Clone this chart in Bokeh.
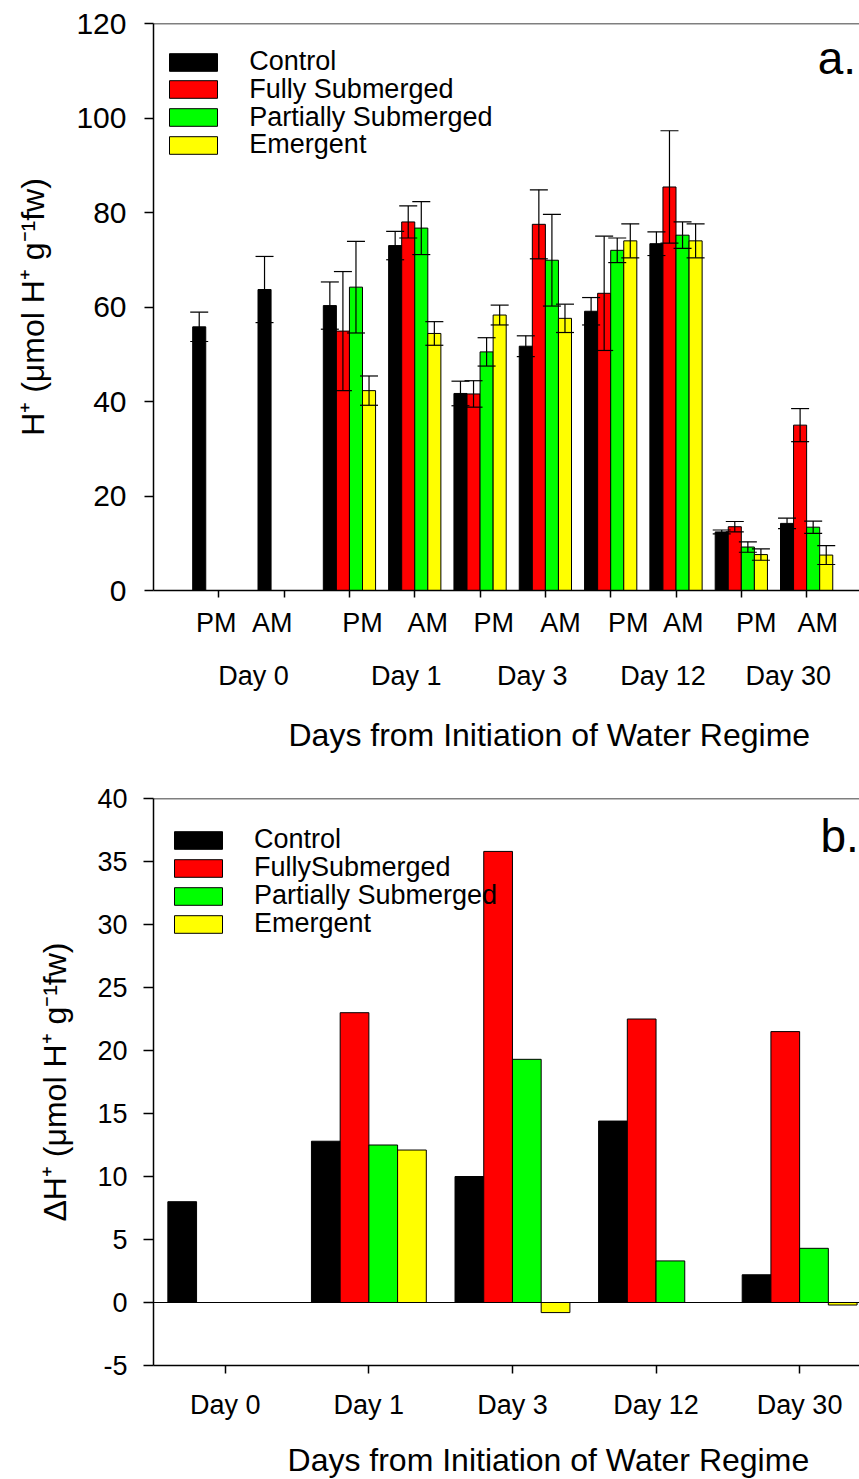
from bokeh.embed import file_html
from bokeh.layouts import column
from bokeh.models import (ColumnDataSource, FixedTicker, Label, Legend, LegendItem,
                          LinearAxis, Range1d, Span, TeeHead, Whisker)
from bokeh.plotting import figure
from bokeh.resources import INLINE

FONT = "Liberation Sans"

# ---------------------------------------------------------------- data
treatments_a = ["Control", "Fully Submerged", "Partially Submerged", "Emergent"]
treatments_b = ["Control", "FullySubmerged", "Partially Submerged", "Emergent"]
colors = ["#000000", "#FF0000", "#00FF00", "#FFFF00"]

days = ["Day 0", "Day 1", "Day 3", "Day 12", "Day 30"]
sessions = ["PM", "AM", "PM", "AM", "PM", "AM", "PM", "AM", "PM", "AM"]

# H+ content (umol H+ g-1 fw), PM then AM sampling for each day
control = [55.8, 63.7, 60.3, 73.0, 41.7, 51.7, 59.1, 73.4, 12.4, 14.2]
control_se = [3.1, 7.0, 5.0, 3.0, 2.6, 2.2, 2.9, 2.5, 0.4, 1.1]
fully = [None, None, 54.9, 78.0, 41.6, 77.5, 62.9, 85.4, 13.5, 35.0]
fully_se = [None, None, 12.6, 3.4, 2.8, 7.3, 12.1, 11.9, 1.1, 3.5]
partial = [None, None, 64.2, 76.7, 50.5, 69.9, 72.0, 75.2, 9.2, 13.4]
partial_se = [None, None, 9.7, 5.6, 3.0, 9.7, 2.6, 2.8, 1.1, 1.3]
emergent = [None, None, 42.3, 54.4, 58.3, 57.6, 74.0, 74.0, 7.6, 7.5]
emergent_se = [None, None, 3.1, 2.5, 2.1, 3.0, 3.6, 3.6, 1.2, 2.0]

# Diurnal change in H+ (AM - PM) for each day
control_delta = [8.0, 12.8, 10.0, 14.4, 2.2]
fully_delta = [None, 23.0, 35.8, 22.5, 21.5]
partial_delta = [None, 12.5, 19.3, 3.3, 4.3]
emergent_delta = [None, 12.1, -0.8, 0.0, -0.2]

x_title = "Days from Initiation of Water Regime"
y_title_a = "H\u207a (\u03bcmol H\u207a g\u207b\u00b9fw)"
y_title_b = "\u0394H\u207a (\u03bcmol H\u207a g\u207b\u00b9fw)"

# ---------------------------------------------------------------- layout
A_LEFT, A_TOP, A_FW, A_FH, A_BOTTOM = 151, 23, 708, 567, 180
B_LEFT, B_TOP, B_FW, B_FH, B_BOTTOM = 153, 28, 706, 567, 114
A_XEND = 10.84          # x units visible in panel a (one unit per sampling)
B_XEND = 4.917          # x units visible in panel b (one unit per day)
OFFSETS = [-0.3, -0.1, 0.1, 0.3]
BAR_W = 0.2

# label anchors along x (data units) for the text rows under panel a
session_label_x = [0.96, 1.82, 3.20, 4.20, 5.21, 6.23, 7.27, 8.11, 9.23, 10.17]
day_label_x = [1.53, 3.87, 5.80, 7.80, 9.72]
title_x_a = 6.06
title_x_b = 2.75


def style_axes(p, tick_font, x_tick_out, y_tick_out):
    p.xgrid.visible = False
    p.ygrid.visible = False
    p.outline_line_color = None
    for ax in (p.xaxis[0], p.yaxis[0]):
        ax.axis_line_width = 1.5
        ax.axis_line_color = "black"
        ax.major_tick_line_width = 1.5
        ax.major_tick_line_color = "black"
        ax.major_tick_in = 0
        ax.minor_tick_line_color = None
        ax.major_label_text_font = FONT
        ax.major_label_text_font_size = tick_font
        ax.major_label_text_color = "black"
        ax.axis_label_text_font = FONT
        ax.axis_label_text_font_style = "normal"
        ax.axis_label_text_color = "black"
    p.xaxis.major_tick_out = x_tick_out
    p.yaxis.major_tick_out = y_tick_out


def text_row(p, ticks, labels, size, standoff):
    """A bare axis below the plot used only to print a row of labels."""
    ax = LinearAxis(ticker=FixedTicker(ticks=ticks),
                    major_label_overrides={t: l for t, l in zip(ticks, labels)},
                    axis_line_color=None, major_tick_line_color=None,
                    minor_tick_line_color=None, major_tick_in=0, major_tick_out=0,
                    major_label_standoff=standoff, major_label_text_font=FONT,
                    major_label_text_font_size=size, major_label_text_color="black")
    p.add_layout(ax, "below")
    return ax


def add_legend(p, renderers, labels, x, y_first, pitch):
    """One legend entry per row, stacked at a fixed pitch."""
    for j, (lab, r) in enumerate(zip(labels, renderers)):
        p.add_layout(Legend(items=[LegendItem(label=lab, renderers=[r])],
                            location=(x, y_first - j * pitch), orientation="vertical",
                            border_line_color=None, background_fill_alpha=0,
                            glyph_width=60, glyph_height=22, label_height=22,
                            label_width=10, label_standoff=26, spacing=0, padding=0,
                            margin=0, label_text_font=FONT, label_text_font_size="27px",
                            label_text_color="black"))


# ---------------------------------------------------------------- panel a
pa = figure(frame_width=A_FW, frame_height=A_FH, min_border_left=A_LEFT, min_border_right=0,
            min_border_top=A_TOP, min_border_bottom=A_BOTTOM,
            x_range=Range1d(0, A_XEND), y_range=Range1d(0, 120),
            output_backend="svg", toolbar_location=None, background_fill_color="white",
            border_fill_color="white")
style_axes(pa, "30px", 7, 9)
pa.yaxis.ticker = FixedTicker(ticks=[0, 20, 40, 60, 80, 100, 120])
pa.yaxis.major_label_standoff = 18
pa.yaxis.axis_label = y_title_a
pa.yaxis.axis_label_text_font_size = "32px"
pa.yaxis.axis_label_standoff = 22
session_pos = [i + 1 for i in range(len(sessions))]
pa.xaxis.ticker = FixedTicker(ticks=session_pos)
pa.xaxis.major_label_overrides = {v: "" for v in session_pos}
pa.xaxis.major_label_text_font_size = "1px"
pa.xaxis.major_label_standoff = 0

series_a = [(control, control_se), (fully, fully_se), (partial, partial_se), (emergent, emergent_se)]
rends_a = []
for k, ((vals, errs), col) in enumerate(zip(series_a, colors)):
    xs, tops, up, lo = [], [], [], []
    for i, (v, e) in enumerate(zip(vals, errs)):
        if v is None:
            continue
        xs.append(session_pos[i] + OFFSETS[k])
        tops.append(v)
        up.append(v + e)
        lo.append(v - e)
    src = ColumnDataSource(dict(x=xs, top=tops, upper=up, lower=lo))
    r = pa.vbar(x="x", top="top", bottom=0, width=BAR_W, source=src,
                fill_color=col, line_color="black", line_width=1)
    rends_a.append(r)
    pa.add_layout(Whisker(source=src, base="x", upper="upper", lower="lower",
                          dimension="height", line_color="black", line_width=1.2,
                          level="overlay",
                          upper_head=TeeHead(size=18, line_width=1.2, line_color="black"),
                          lower_head=TeeHead(size=18, line_width=1.2, line_color="black")))

pa.add_layout(Span(location=120, dimension="width", line_color="black", line_width=1.5))
add_legend(pa, rends_a, treatments_a, 19, 513, 27.8)
text_row(pa, session_label_x, sessions, "27px", 10)
text_row(pa, day_label_x, days, "27px", 20)
text_row(pa, [title_x_a], [x_title], "32px", 23)
pa.add_layout(Label(x=10.17, y=112.8, text="a.", text_align="left",
                    text_baseline="alphabetic", text_font=FONT, text_font_size="46px",
                    text_color="black"))

# ---------------------------------------------------------------- panel b
pb = figure(frame_width=B_FW, frame_height=B_FH, min_border_left=B_LEFT, min_border_right=0,
            min_border_top=B_TOP, min_border_bottom=B_BOTTOM,
            x_range=Range1d(0, B_XEND), y_range=Range1d(-5, 40),
            output_backend="svg", toolbar_location=None, background_fill_color="white",
            border_fill_color="white")
style_axes(pb, "27px", 8, 10)
y_ticks_b = list(range(-5, 41, 5))
pb.yaxis.ticker = FixedTicker(ticks=y_ticks_b)
pb.yaxis.major_label_overrides = {t: str(t) for t in y_ticks_b}
pb.yaxis.major_label_standoff = 16
pb.yaxis.axis_label = y_title_b
pb.yaxis.axis_label_text_font_size = "32px"
pb.yaxis.axis_label_standoff = 21
day_pos = [i + 0.5 for i in range(len(days))]
pb.xaxis.ticker = FixedTicker(ticks=day_pos)
pb.xaxis.major_label_overrides = {v: d for v, d in zip(day_pos, days)}
pb.xaxis.major_label_standoff = 16

pb.add_layout(Span(location=0, dimension="width", line_color="black", line_width=1.2))
series_b = [control_delta, fully_delta, partial_delta, emergent_delta]
rends_b = []
for k, (vals, col) in enumerate(zip(series_b, colors)):
    xs = [day_pos[i] + OFFSETS[k] for i, v in enumerate(vals) if v is not None]
    tops = [v for v in vals if v is not None]
    src = ColumnDataSource(dict(x=xs, top=tops))
    r = pb.vbar(x="x", top="top", bottom=0, width=BAR_W, source=src,
                fill_color=col, line_color="black", line_width=1)
    rends_b.append(r)

pb.add_layout(Span(location=40, dimension="width", line_color="black", line_width=1.5))
add_legend(pb, rends_b, treatments_b, 15, 510, 28)
text_row(pb, [title_x_b], [x_title], "32px", 19)
pb.add_layout(Label(x=4.645, y=37.0, text="b.", text_align="left",
                    text_baseline="alphabetic", text_font=FONT, text_font_size="46px",
                    text_color="black"))

layout = column(pa, pb, spacing=0)
open("out.html", "w").write(file_html(layout, INLINE))
